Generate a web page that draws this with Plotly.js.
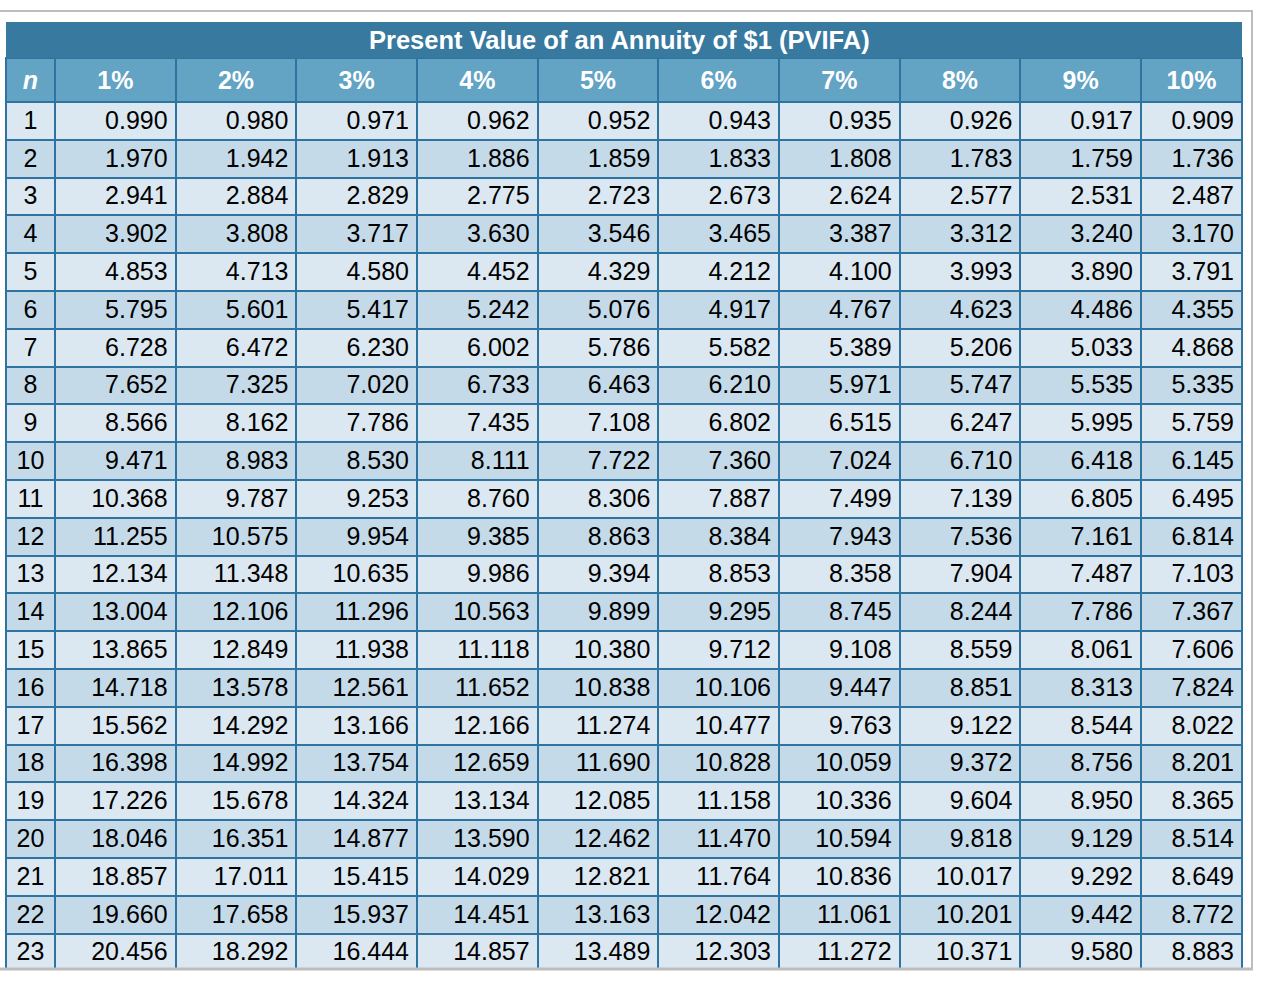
<!DOCTYPE html>
<html>
<head>
<meta charset="utf-8">
<script src="https://cdn.plot.ly/plotly-3.0.1.min.js"></script>
<style>html,body{margin:0;padding:0;background:#fff;}#chart{width:1266px;height:988px;}</style>
</head>
<body>
<div id="chart"></div>
<script>
var title = "Present Value of an Annuity of $1 (PVIFA)";
var headers = ["n", "1%", "2%", "3%", "4%", "5%", "6%", "7%", "8%", "9%", "10%"];
var periods = [1,2,3,4,5,6,7,8,9,10,11,12,13,14,15,16,17,18,19,20,21,22,23];
var r1 = [0.990,1.970,2.941,3.902,4.853,5.795,6.728,7.652,8.566,9.471,10.368,11.255,12.134,13.004,13.865,14.718,15.562,16.398,17.226,18.046,18.857,19.660,20.456];
var r2 = [0.980,1.942,2.884,3.808,4.713,5.601,6.472,7.325,8.162,8.983,9.787,10.575,11.348,12.106,12.849,13.578,14.292,14.992,15.678,16.351,17.011,17.658,18.292];
var r3 = [0.971,1.913,2.829,3.717,4.580,5.417,6.230,7.020,7.786,8.530,9.253,9.954,10.635,11.296,11.938,12.561,13.166,13.754,14.324,14.877,15.415,15.937,16.444];
var r4 = [0.962,1.886,2.775,3.630,4.452,5.242,6.002,6.733,7.435,8.111,8.760,9.385,9.986,10.563,11.118,11.652,12.166,12.659,13.134,13.590,14.029,14.451,14.857];
var r5 = [0.952,1.859,2.723,3.546,4.329,5.076,5.786,6.463,7.108,7.722,8.306,8.863,9.394,9.899,10.380,10.838,11.274,11.690,12.085,12.462,12.821,13.163,13.489];
var r6 = [0.943,1.833,2.673,3.465,4.212,4.917,5.582,6.210,6.802,7.360,7.887,8.384,8.853,9.295,9.712,10.106,10.477,10.828,11.158,11.470,11.764,12.042,12.303];
var r7 = [0.935,1.808,2.624,3.387,4.100,4.767,5.389,5.971,6.515,7.024,7.499,7.943,8.358,8.745,9.108,9.447,9.763,10.059,10.336,10.594,10.836,11.061,11.272];
var r8 = [0.926,1.783,2.577,3.312,3.993,4.623,5.206,5.747,6.247,6.710,7.139,7.536,7.904,8.244,8.559,8.851,9.122,9.372,9.604,9.818,10.017,10.201,10.371];
var r9 = [0.917,1.759,2.531,3.240,3.890,4.486,5.033,5.535,5.995,6.418,6.805,7.161,7.487,7.786,8.061,8.313,8.544,8.756,8.950,9.129,9.292,9.442,9.580];
var r10 = [0.909,1.736,2.487,3.170,3.791,4.355,4.868,5.335,5.759,6.145,6.495,6.814,7.103,7.367,7.606,7.824,8.022,8.201,8.365,8.514,8.649,8.772,8.883];

var W = 1266, H = 988;
var colLight = "#DCE8F1", colDark = "#C4DAE8", lineCol = "#2F74A0";
var columns = [periods, r1, r2, r3, r4, r5, r6, r7, r8, r9, r10];
var rowFill = periods.map(function(p, i){ return i % 2 === 0 ? colLight : colDark; });
var fills = columns.map(function(){ return rowFill; });
var headerText = headers.map(function(h, i){ return i === 0 ? "<b><i>" + h + "</i></b>" : "<b>" + h + "</b>"; });

var tableLeft = 6, tableRight = 1242, tableTop = 58, tableBottom = 968;
var trace = {
  type: "table",
  domain: {x: [tableLeft / W, tableRight / W], y: [1 - tableBottom / H, 1 - tableTop / H]},
  columnwidth: [49, 120.6, 120.6, 120.6, 120.6, 120.6, 120.6, 120.6, 120.6, 120.6, 101],
  header: {
    values: headerText,
    align: "center",
    height: 39,
    fill: {color: "#63A3C4"},
    line: {color: lineCol, width: 2},
    font: {family: "Liberation Sans, Arial, sans-serif", size: 25, color: "#FFFFFF"}
  },
  cells: {
    values: columns,
    format: ["d", ".3f", ".3f", ".3f", ".3f", ".3f", ".3f", ".3f", ".3f", ".3f", ".3f"],
    align: ["center", "right", "right", "right", "right", "right", "right", "right", "right", "right", "right"],
    height: 37.8,
    fill: {color: fills},
    line: {color: lineCol, width: 2},
    font: {family: "Liberation Sans, Arial, sans-serif", size: 25, color: "#000000"}
  }
};

function px(x){ return x / W; }
function py(y){ return 1 - y / H; }

var layout = {
  width: W, height: H,
  margin: {l: 0, r: 0, t: 0, b: 0},
  paper_bgcolor: "#FFFFFF",
  showlegend: false,
  shapes: [
    {type: "rect", xref: "paper", yref: "paper", x0: px(tableLeft), x1: px(tableRight), y0: py(58), y1: py(22),
     fillcolor: "#37799F", line: {width: 0}},
    {type: "line", xref: "paper", yref: "paper", x0: px(0), x1: px(1253), y0: py(11), y1: py(11),
     line: {color: "#BDBDBD", width: 2}},
    {type: "line", xref: "paper", yref: "paper", x0: px(1252), x1: px(1252), y0: py(11), y1: py(969),
     line: {color: "#BDBDBD", width: 2}},
    {type: "line", xref: "paper", yref: "paper", x0: px(0), x1: px(1253), y0: py(969), y1: py(969),
     line: {color: "#BDBDBD", width: 3}}
  ],
  annotations: [
    {xref: "paper", yref: "paper", x: px(619), y: py(40), xanchor: "center", yanchor: "middle",
     showarrow: false, text: "<b>" + title + "</b>",
     font: {family: "Liberation Sans, Arial, sans-serif", size: 25.5, color: "#FFFFFF"}}
  ]
};

Plotly.newPlot("chart", [trace], layout, {displayModeBar: false, staticPlot: true});
</script>
</body>
</html>
